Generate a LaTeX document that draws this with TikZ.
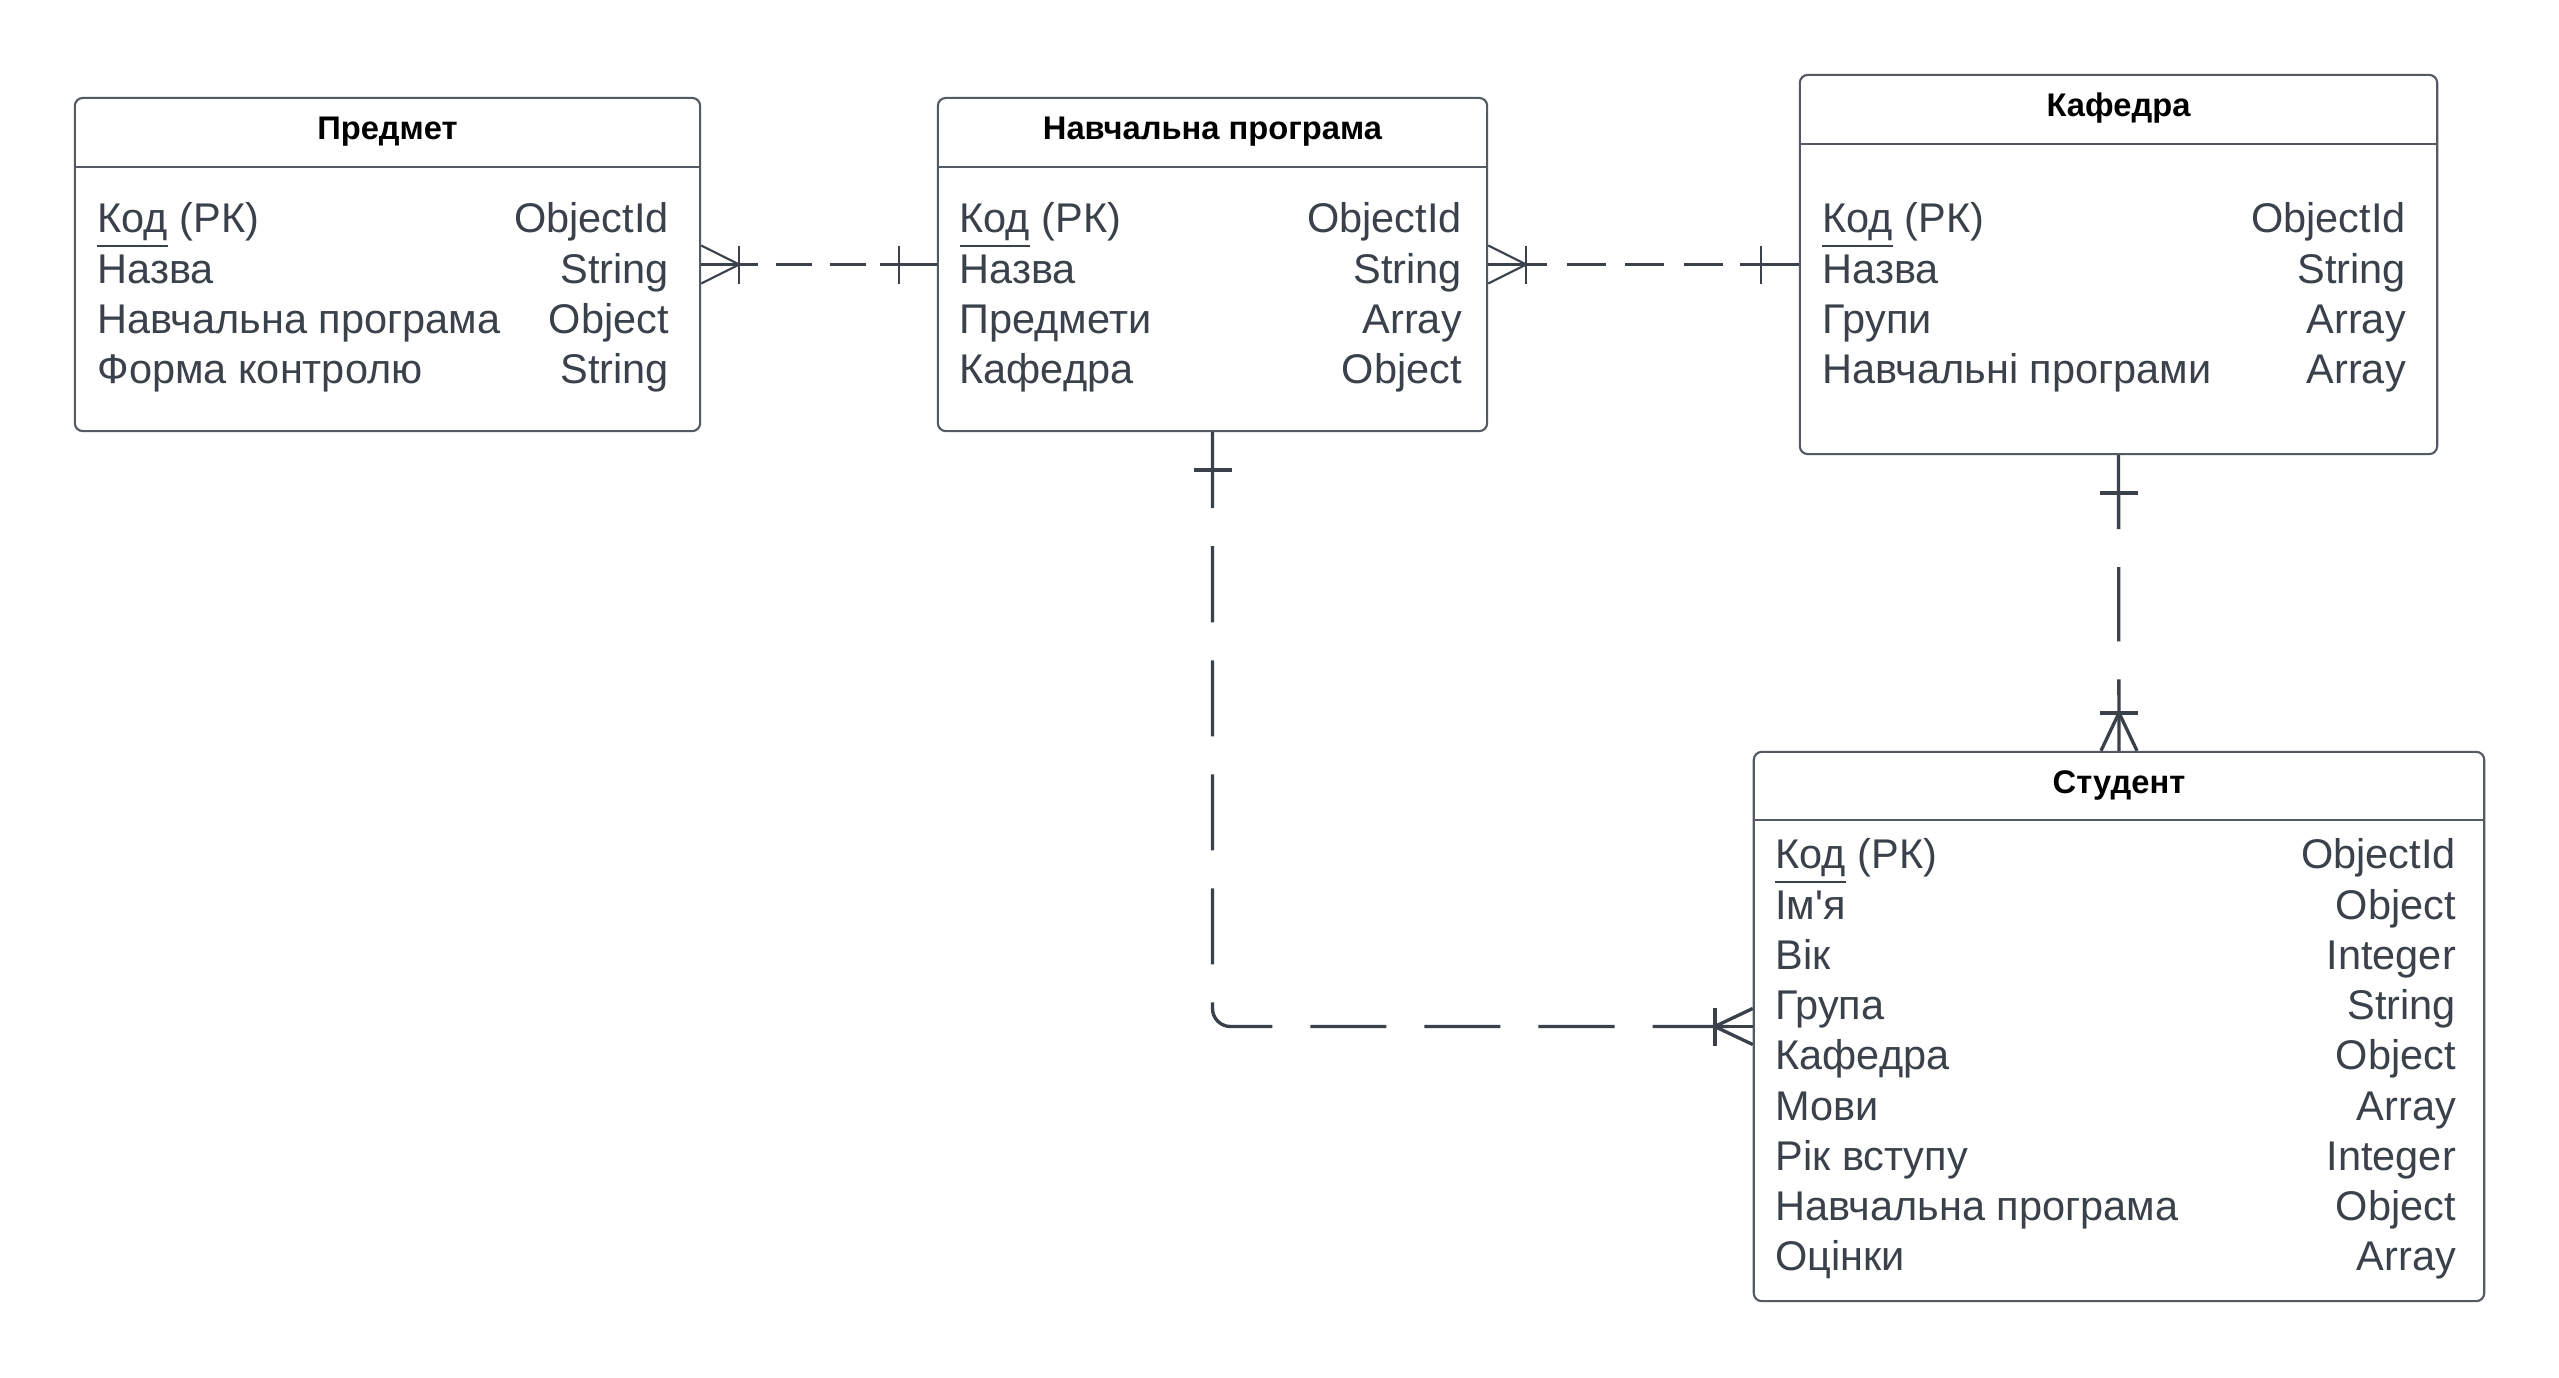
\documentclass[tikz,border=0pt]{standalone}
\usepackage{fontspec}
\setmainfont{Liberation Sans}[Ligatures=TeXOff]
\usetikzlibrary{calc}

\definecolor{ink}{RGB}{58,65,74}
\definecolor{frame}{RGB}{84,90,98}
\newcommand{\keyfield}{\underline{Код} (РК)}

\begin{document}
\begin{tikzpicture}[x=0.01cm, y=-0.01cm,
    entity/.style = {draw=frame, line width=0.6pt, rounded corners=0.08cm, fill=white},
    headline/.style = {draw=frame, line width=0.6pt},
    title/.style = {anchor=base, inner sep=0pt, text=black, font=\fontsize{9.3}{11}\selectfont\bfseries},
    fields/.style = {anchor=base west, inner sep=0pt, text=ink, font=\fontsize{11.8}{14.28}\selectfont},
    link/.style = {draw=ink, line width=0.6pt},
    heavylink/.style = {draw=ink, line width=0.95pt},
    heavybar/.style = {draw=ink, line width=1.15pt}]

    \useasboundingbox (0,0) rectangle (2559,1378);

    % entities
    \node[entity, minimum width=6.25cm, minimum height=3.33cm] (predmet) at (387.5,264.5) {};
    \node[entity, minimum width=5.49cm, minimum height=3.33cm] (navch) at (1212.5,264.5) {};
    \node[entity, minimum width=6.37cm, minimum height=3.79cm] (kafedra) at (2118.5,264.5) {};
    \node[entity, minimum width=7.30cm, minimum height=5.49cm] (student) at (2119,1026.5) {};

    \draw[headline] ([yshift=-0.7cm]predmet.north west) -- ([yshift=-0.7cm]predmet.north east);
    \draw[headline] ([yshift=-0.7cm]navch.north west) -- ([yshift=-0.7cm]navch.north east);
    \draw[headline] ([yshift=-0.7cm]kafedra.north west) -- ([yshift=-0.7cm]kafedra.north east);
    \draw[headline] ([yshift=-0.69cm]student.north west) -- ([yshift=-0.69cm]student.north east);

    \node[title] (predmet-title) at ([yshift=-0.43cm]predmet.north) {Предмет};
    \node[title] (navch-title) at ([yshift=-0.43cm]navch.north) {Навчальна програма};
    \node[title] (kafedra-title) at ([yshift=-0.43cm]kafedra.north) {Кафедра};
    \node[title] (student-title) at ([yshift=-0.43cm]student.north) {Студент};

    \node[fields] (predmet-fields) at ([xshift=0.23cm, yshift=-1.36cm]predmet.north west)
        {\begin{tabular*}{5.71cm}[t]{@{}l@{\extracolsep{\fill}}r@{}}
            \keyfield & ObjectId\\
            Назва & String\\
            Навчальна програма & Object\\
            Форма контролю & String
        \end{tabular*}};
    \node[fields] (navch-fields) at ([xshift=0.22cm, yshift=-1.36cm]navch.north west)
        {\begin{tabular*}{5.02cm}[t]{@{}l@{\extracolsep{\fill}}r@{}}
            \keyfield & ObjectId\\
            Назва & String\\
            Предмети & Array\\
            Кафедра & Object
        \end{tabular*}};
    \node[fields] (kafedra-fields) at ([xshift=0.23cm, yshift=-1.59cm]kafedra.north west)
        {\begin{tabular*}{5.83cm}[t]{@{}l@{\extracolsep{\fill}}r@{}}
            \keyfield & ObjectId\\
            Назва & String\\
            Групи & Array\\
            Навчальні програми & Array
        \end{tabular*}};
    \node[fields] (student-fields) at ([xshift=0.22cm, yshift=-1.18cm]student.north west)
        {\begin{tabular*}{6.80cm}[t]{@{}l@{\extracolsep{\fill}}r@{}}
            \keyfield & ObjectId\\
            Ім'я & Object\\
            Вік & Integer\\
            Група & String\\
            Кафедра & Object\\
            Мови & Array\\
            Рік вступу & Integer\\
            Навчальна програма & Object\\
            Оцінки & Array
        \end{tabular*}};

    % relations
    \draw[link, dash pattern=on 0.36cm off 0.18cm, dash phase=0.33cm] (predmet.east) -- (navch.west);
    \draw[link, dash pattern=on 0.39cm off 0.195cm, dash phase=0.385cm] (navch.east) -- (kafedra.west);
    \draw[heavylink, dash pattern=on 0.76cm off 0.38cm, rounded corners=0.18cm] (navch.south) |- (student.west);
    \draw[heavylink, dash pattern=on 0.74cm off 0.38cm] (kafedra.south) -- (student.north);

    % predmet -- navch
    \draw[link] (predmet.east) -- ++(57,0);
    \draw[link] ([yshift=0.19cm]predmet.east) -- ([xshift=0.38cm]predmet.east) -- ([yshift=-0.19cm]predmet.east);
    \draw[link] ([xshift=0.38cm]predmet.east) ++(0,-19) -- ++(0,38);
    \draw[link] (navch.west) -- ++(-57,0);
    \draw[link] ([xshift=-0.38cm]navch.west) ++(0,-19) -- ++(0,38);

    % navch -- kafedra
    \draw[link] (navch.east) -- ++(59,0);
    \draw[link] ([yshift=0.19cm]navch.east) -- ([xshift=0.38cm]navch.east) -- ([yshift=-0.19cm]navch.east);
    \draw[link] ([xshift=0.38cm]navch.east) ++(0,-19) -- ++(0,38);
    \draw[link] (kafedra.west) -- ++(-59,0);
    \draw[link] ([xshift=-0.38cm]kafedra.west) ++(0,-19) -- ++(0,38);

    % navch -- student
    \draw[heavybar] ([yshift=-0.38cm]navch.south) ++(-19,0) -- ++(38,0);
    \draw[heavylink] (student.west) -- ++(-60,0);
    \draw[heavylink] ([yshift=0.18cm]student.west) -- ([xshift=-0.38cm]student.west) -- ([yshift=-0.18cm]student.west);
    \draw[heavybar] ([xshift=-0.38cm]student.west) ++(0,-19) -- ++(0,38);

    % kafedra -- student
    \draw[heavybar] ([yshift=-0.38cm]kafedra.south) ++(-19,0) -- ++(38,0);
    \draw[heavylink] ([xshift=-0.18cm]student.north) -- ([yshift=0.38cm]student.north) -- ([xshift=0.18cm]student.north);
    \draw[heavybar] ([yshift=0.38cm]student.north) ++(-19,0) -- ++(38,0);
\end{tikzpicture}
\end{document}
